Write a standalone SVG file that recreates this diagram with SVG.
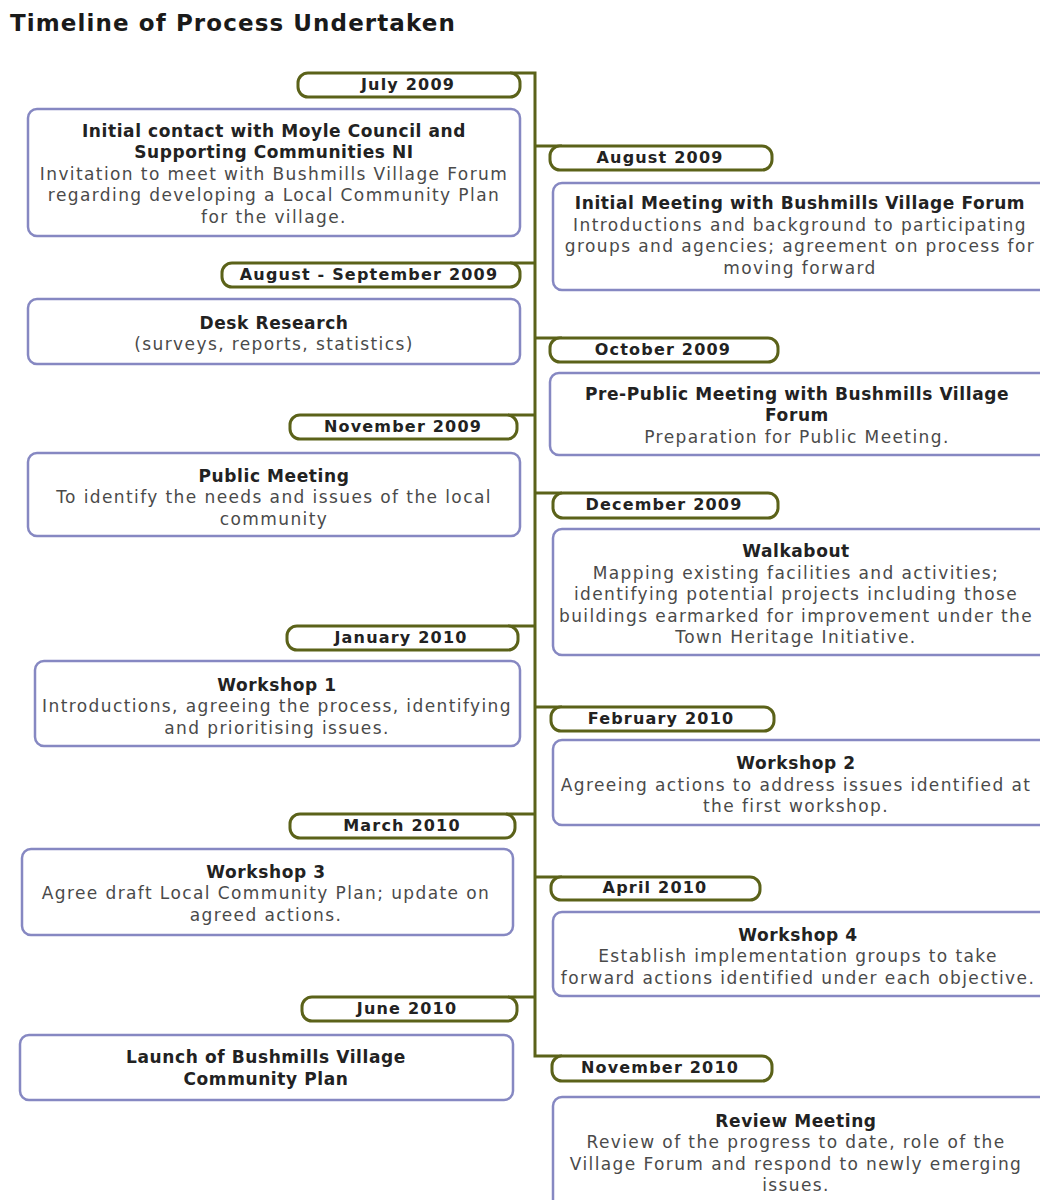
<svg xmlns="http://www.w3.org/2000/svg" width="1040" height="1200" viewBox="0 0 1040 1200">
<style>
.title{font-family:"DejaVu Sans",sans-serif;font-weight:bold;font-size:23px;letter-spacing:1.1px;fill:#1a1a1a}
.pill{fill:#fff;stroke:#5b6219;stroke-width:3}
.pt{font-family:"DejaVu Sans",sans-serif;font-weight:bold;font-size:16px;letter-spacing:1.2px;fill:#222;text-anchor:middle}
.box{fill:#fff;stroke:#8688c2;stroke-width:2.5}
.bt{font-family:"DejaVu Sans",sans-serif;font-weight:bold;font-size:17px;letter-spacing:0.6px;fill:#222;text-anchor:middle}
.bd{font-family:"DejaVu Sans",sans-serif;font-size:17px;letter-spacing:1.4px;fill:#4a4a4a;text-anchor:middle}
.line{fill:none;stroke:#5b6219;stroke-width:3}
</style>
<rect width="1040" height="1200" fill="#fff"/>
<text class="title" x="10" y="31">Timeline of Process Undertaken</text>

<g id="connectors">
<path class="line" d="M510,73 H535 V1056 H562"/>
<path class="line" d="M535,146 H562"/>
<path class="line" d="M510,263 H535"/>
<path class="line" d="M535,338 H562"/>
<path class="line" d="M508,415 H535"/>
<path class="line" d="M535,493 H562"/>
<path class="line" d="M508,626 H535"/>
<path class="line" d="M535,707 H562"/>
<path class="line" d="M506,814 H535"/>
<path class="line" d="M535,877 H562"/>
<path class="line" d="M508,997 H535"/>
</g>

<g id="p-jul09"><rect class="pill" x="298" y="73" width="222" height="24" rx="10"/><text class="pt" x="408" y="90">July 2009</text></g>
<g id="p-aug09"><rect class="pill" x="550" y="146" width="222" height="24" rx="10"/><text class="pt" x="660" y="163">August 2009</text></g>
<g id="p-augsep09"><rect class="pill" x="222" y="263" width="298" height="24" rx="10"/><text class="pt" x="369" y="280">August - September 2009</text></g>
<g id="p-oct09"><rect class="pill" x="550" y="338" width="228" height="24" rx="10"/><text class="pt" x="663" y="355">October 2009</text></g>
<g id="p-nov09"><rect class="pill" x="290" y="415" width="227" height="24" rx="10"/><text class="pt" x="403" y="432">November 2009</text></g>
<g id="p-dec09"><rect class="pill" x="553" y="493" width="225" height="25" rx="10"/><text class="pt" x="664" y="510">December 2009</text></g>
<g id="p-jan10"><rect class="pill" x="287" y="626" width="231" height="24" rx="10"/><text class="pt" x="401" y="643">January 2010</text></g>
<g id="p-feb10"><rect class="pill" x="551" y="707" width="223" height="24" rx="10"/><text class="pt" x="661" y="724">February 2010</text></g>
<g id="p-mar10"><rect class="pill" x="290" y="814" width="225" height="24" rx="10"/><text class="pt" x="402" y="831">March 2010</text></g>
<g id="p-apr10"><rect class="pill" x="551" y="877" width="209" height="23" rx="10"/><text class="pt" x="655" y="893">April 2010</text></g>
<g id="p-jun10"><rect class="pill" x="302" y="997" width="215" height="24" rx="10"/><text class="pt" x="407" y="1014">June 2010</text></g>
<g id="p-nov10"><rect class="pill" x="552" y="1056" width="220" height="25" rx="10"/><text class="pt" x="660" y="1073">November 2010</text></g>

<g id="b-contact"><rect class="box" x="28" y="109" width="492" height="127" rx="9"/>
<text class="bt" x="274" y="137">Initial contact with Moyle Council and</text>
<text class="bt" x="274" y="158">Supporting Communities NI</text>
<text class="bd" x="274" y="180">Invitation to meet with Bushmills Village Forum</text>
<text class="bd" x="274" y="201">regarding developing a Local Community Plan</text>
<text class="bd" x="274" y="223">for the village.</text></g>

<g id="b-initial"><rect class="box" x="553" y="183" width="497" height="107" rx="9"/>
<text class="bt" x="800" y="209">Initial Meeting with Bushmills Village Forum</text>
<text class="bd" x="800" y="231">Introductions and background to participating</text>
<text class="bd" x="800" y="252">groups and agencies; agreement on process for</text>
<text class="bd" x="800" y="274">moving forward</text></g>

<g id="b-desk"><rect class="box" x="28" y="299" width="492" height="65" rx="9"/>
<text class="bt" x="274" y="329">Desk Research</text>
<text class="bd" x="274" y="350">(surveys, reports, statistics)</text></g>

<g id="b-prepublic"><rect class="box" x="550" y="373" width="500" height="82" rx="9"/>
<text class="bt" x="797" y="400">Pre-Public Meeting with Bushmills Village</text>
<text class="bt" x="797" y="421">Forum</text>
<text class="bd" x="797" y="443">Preparation for Public Meeting.</text></g>

<g id="b-public"><rect class="box" x="28" y="453" width="492" height="83" rx="9"/>
<text class="bt" x="274" y="482">Public Meeting</text>
<text class="bd" x="274" y="503">To identify the needs and issues of the local</text>
<text class="bd" x="274" y="525">community</text></g>

<g id="b-walk"><rect class="box" x="553" y="529" width="497" height="126" rx="9"/>
<text class="bt" x="796" y="557">Walkabout</text>
<text class="bd" x="796" y="579">Mapping existing facilities and activities;</text>
<text class="bd" x="796" y="600">identifying potential projects including those</text>
<text class="bd" x="796" y="622">buildings earmarked for improvement under the</text>
<text class="bd" x="796" y="643">Town Heritage Initiative.</text></g>

<g id="b-ws1"><rect class="box" x="35" y="661" width="485" height="85" rx="9"/>
<text class="bt" x="277" y="691">Workshop 1</text>
<text class="bd" x="277" y="712">Introductions, agreeing the process, identifying</text>
<text class="bd" x="277" y="734">and prioritising issues.</text></g>

<g id="b-ws2"><rect class="box" x="553" y="740" width="497" height="85" rx="9"/>
<text class="bt" x="796" y="769">Workshop 2</text>
<text class="bd" x="796" y="791">Agreeing actions to address issues identified at</text>
<text class="bd" x="796" y="812">the first workshop.</text></g>

<g id="b-ws3"><rect class="box" x="22" y="849" width="491" height="86" rx="9"/>
<text class="bt" x="266" y="878">Workshop 3</text>
<text class="bd" x="266" y="899">Agree draft Local Community Plan; update on</text>
<text class="bd" x="266" y="921">agreed actions.</text></g>

<g id="b-ws4"><rect class="box" x="553" y="912" width="497" height="84" rx="9"/>
<text class="bt" x="798" y="941">Workshop 4</text>
<text class="bd" x="798" y="962">Establish implementation groups to take</text>
<text class="bd" x="798" y="984">forward actions identified under each objective.</text></g>

<g id="b-launch"><rect class="box" x="20" y="1035" width="493" height="65" rx="9"/>
<text class="bt" x="266" y="1063">Launch of Bushmills Village</text>
<text class="bt" x="266" y="1085">Community Plan</text></g>

<g id="b-review"><rect class="box" x="553" y="1097" width="497" height="115" rx="9"/>
<text class="bt" x="796" y="1127">Review Meeting</text>
<text class="bd" x="796" y="1148">Review of the progress to date, role of the</text>
<text class="bd" x="796" y="1170">Village Forum and respond to newly emerging</text>
<text class="bd" x="796" y="1191">issues.</text></g>
</svg>
